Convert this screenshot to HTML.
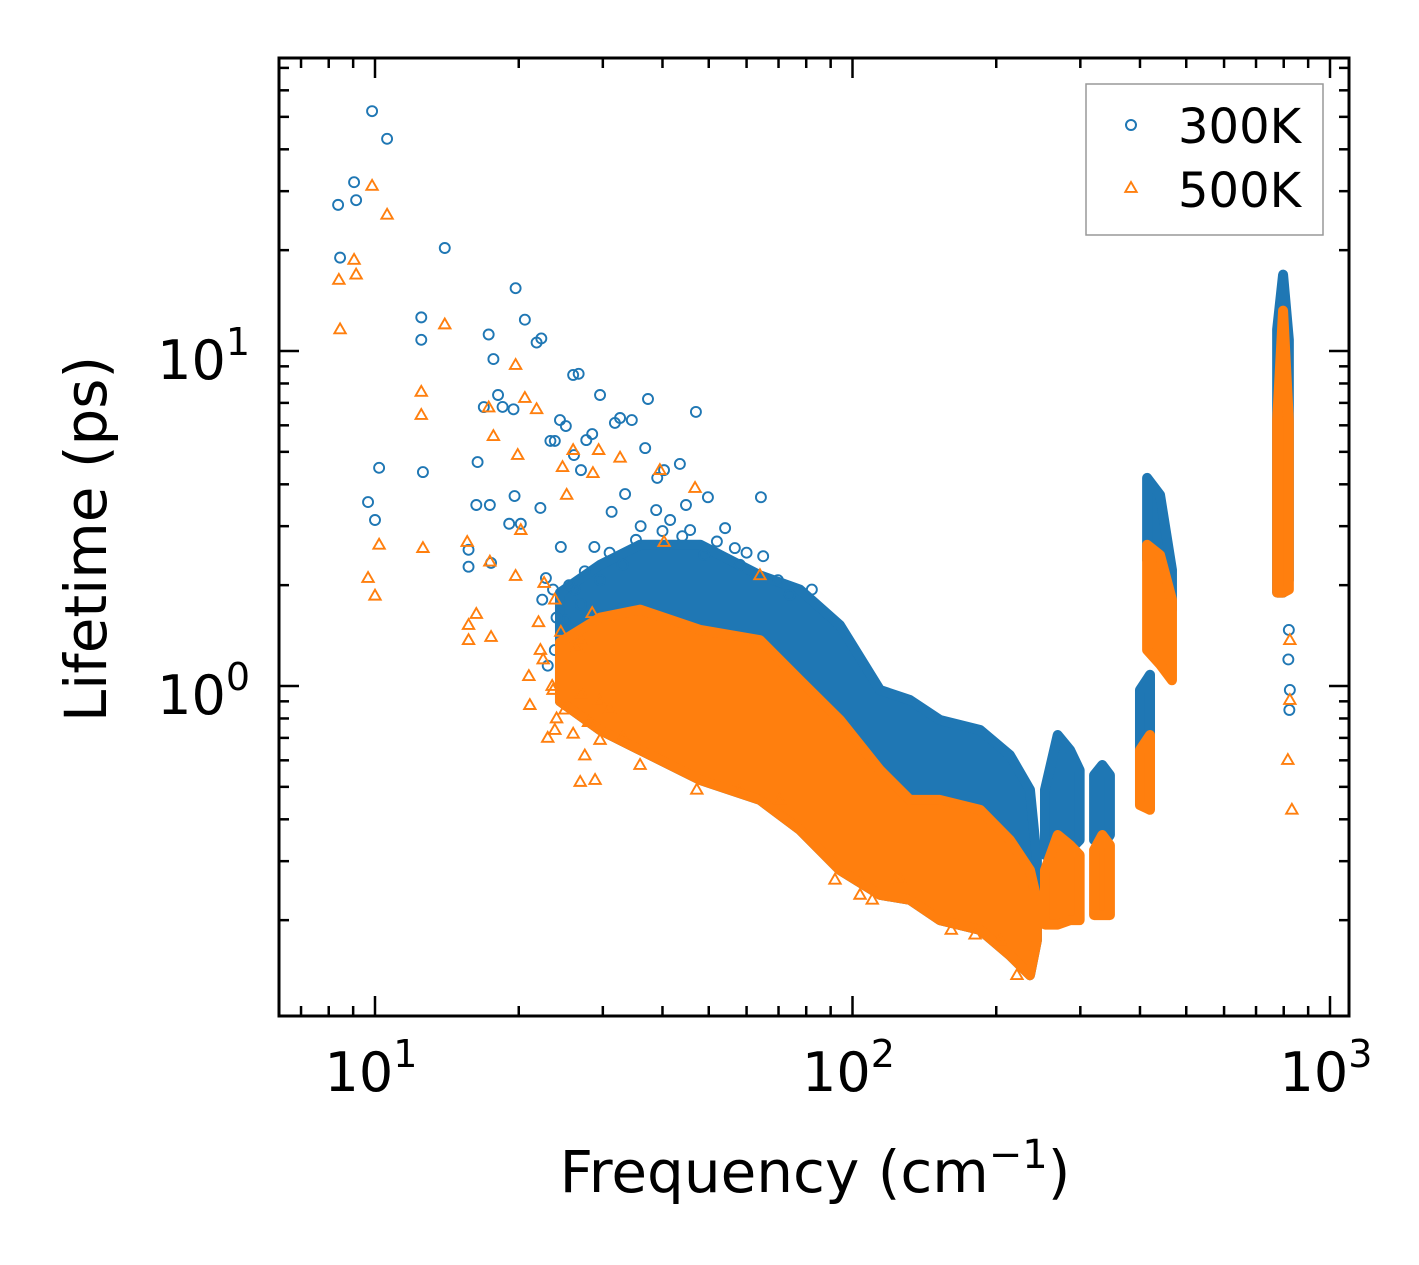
<!DOCTYPE html>
<html><head><meta charset="utf-8"><style>
html,body{margin:0;padding:0;background:#fff;}
svg{display:block;font-family:"DejaVu Sans","Liberation Sans",sans-serif;}
</style></head><body>
<svg id="chart" width="1419" height="1265" viewBox="0 0 1419 1265" xmlns="http://www.w3.org/2000/svg">
<rect width="1419" height="1265" fill="#fff"/>
<g id="plot"></g>
<g id="axes"></g>
</svg>
<script>
// ---- data ----
const xTickValues = [10, 100, 1000];
const xTickLabels = ["10", "10", "10"];
const xTickExps = ["1", "2", "3"];
const yTickValues = [1, 10];
const yTickLabels = ["10", "10"];
const yTickExps = ["0", "1"];
const seriesNames = ["300K", "500K"];

const blueFreq = [8.37,8.45,9.04,9.13,9.86,10.6,14.0,9.67,10.0,10.2,12.5,12.5,12.6,17.3,17.7,19.7,20.6,21.8,22.3,26.0,26.7,29.6,32.6,37.3,47.0,18.1,18.5,19.5,16.9,16.4,15.7,15.7,16.3,17.4,17.5,19.1,19.6,20.2,22.2,23.3,23.8,24.4,25.1,26.1,27.0,27.7,28.5,31.8,34.5,36.8,39.0,40.3,43.5,44.8,49.8,64.3,65.0,54.1,56.7,22.4,23.6,25.0,26.2,28.2,29.6,31.3,33.4,35.2,38.8,41.5,45.7,48.9,58.1,69.8,73.9,82.2,23.8,25.6,30.5,27.5,32.6,820,824,822,818,24,25.5,27,28,23,26.5,29,27.5,24.5,22.8,30.5,31,33,28.8,36,40,44,52,60];
const blueLife = [27.3,19.0,31.9,28.2,52.0,43.0,20.3,3.54,3.13,4.48,10.8,12.6,4.35,11.2,9.46,15.4,12.4,10.6,10.9,8.48,8.55,7.39,6.31,7.19,6.58,7.39,6.81,6.7,6.8,4.66,2.55,2.27,3.47,3.47,2.33,3.05,3.69,3.05,3.40,5.39,5.39,6.22,5.97,4.89,4.41,5.42,5.65,6.1,6.22,5.13,4.18,4.41,4.6,3.47,3.66,3.66,2.44,2.96,2.58,1.81,1.94,1.57,1.94,1.33,2.07,3.31,3.74,2.73,3.35,3.13,2.92,2.46,2.30,2.07,1.87,1.94,1.28,1.24,1.03,1.50,1.69,1.47,0.973,0.848,1.2,1.6,2.0,1.75,1.4,1.15,1.1,1.2,2.2,2.6,2.1,1.6,2.5,2.3,2.6,3.0,2.9,2.8,2.7,2.5];
const orangeFreq = [8.4,8.45,9.04,9.13,9.86,10.6,14.0,9.67,10.0,10.2,12.5,12.5,12.6,17.3,17.7,19.7,20.6,19.9,21.8,15.6,15.7,15.7,16.3,17.5,17.4,19.7,20.2,22.6,23.8,24.7,25.2,26.0,28.6,29.4,32.6,39.5,40.3,46.8,64.0,21.0,21.1,23.6,23.8,26.9,28.9,29.6,35.9,47.2,58.1,70.3,91.9,103.7,110,125.9,161,180.6,203.7,221,832,816,824,824,22.2,26.9,22.5,23.5,25,26,24,27,28,29.5,22,24.5,26.5,28.5,23,27.5,31,33];
const orangeLife = [16.3,11.6,18.7,16.9,31.1,25.5,12.0,2.10,1.86,2.64,7.55,6.44,2.58,6.78,5.57,9.08,7.24,4.89,6.7,2.69,1.52,1.37,1.64,1.40,2.35,2.13,2.92,2.03,1.81,4.50,3.72,5.06,4.32,5.06,4.8,4.41,2.69,3.9,2.14,1.07,0.877,0.973,0.739,0.517,0.524,0.69,0.581,0.49,0.49,0.457,0.264,0.238,0.23,0.264,0.187,0.181,0.174,0.137,0.427,0.601,0.908,1.37,1.28,1.37,1.2,1.0,0.85,0.72,0.8,0.95,0.78,0.9,1.55,1.45,1.3,1.65,0.7,0.62,0.85,0.7];

// dense regions: frequency, lower and upper lifetime envelopes
const blueBandFreq = [
  [24.4,29.6,35.9,48.0,64.0,77.6,94.1,114.2,131.9,152.4,185,213.6,235.3,243.3],
  [253,269,285.5,299],[320.6,333.5,346],[400,419.8],[414,440.6,466.7],[775,797.5,820]];
const blueBandLo = [
  [0.9,0.739,0.644,0.524,0.457,0.372,0.282,0.238,0.23,0.2,0.187,0.157,0.137,0.174],
  [0.313,0.303,0.324,0.347],[0.347,0.335,0.359],[0.601,0.69],[2.38,1.94,1.69],[1.9,1.9,2.07]];
const blueBandHi = [
  [1.9,2.3,2.64,2.64,2.14,1.94,1.52,0.973,0.908,0.792,0.739,0.622,0.49,0.303],
  [0.49,0.714,0.644,0.561],[0.542,0.581,0.542],[0.973,1.08],[4.18,3.72,2.22],[11.6,16.9,10.8]];
const orangeBandFreq = [
  [24.4,29.6,35.9,48.0,64.0,77.6,94.1,114.2,131.9,152.4,185,213.6,235.3,243.3],
  [253,269,285.5,299],[320.6,333.5,346],[400,419.8],[414,440.6,466.7],[775,797.5,820]];
const orangeBandLo = [
  [0.9,0.739,0.644,0.524,0.457,0.372,0.282,0.238,0.23,0.2,0.187,0.157,0.137,0.174],
  [0.194,0.194,0.2,0.2],[0.207,0.207,0.207],[0.441,0.427],[1.28,1.16,1.04],[1.9,1.9,1.94]];
const orangeBandHi = [
  [1.35,1.6,1.69,1.47,1.37,1.04,0.792,0.561,0.457,0.457,0.427,0.347,0.282,0.23],
  [0.282,0.359,0.335,0.313],[0.324,0.359,0.335],[0.644,0.714],[2.64,2.46,1.81],[6.22,13.2,6.22]];

// ---- layout ----
const PL=279, PR=1349, PT=58, PB=1016;
const X10=375, XDEC=477.5, Y1=686, YDEC=335;
const BLUE="#1f77b4", ORANGE="#ff7f0e";
function xs(f){return X10+(Math.log10(f)-1)*XDEC;}
function ys(v){return Y1-Math.log10(v)*YDEC;}
const NS="http://www.w3.org/2000/svg";
function mk(tag,attrs,parent){const e=document.createElementNS(NS,tag);for(const k in attrs)e.setAttribute(k,attrs[k]);parent.appendChild(e);return e;}
const plot=document.getElementById('plot');
const axes=document.getElementById('axes');
const cp=mk('clipPath',{id:'clip'},plot);
mk('rect',{x:PL,y:PT,width:PR-PL,height:PB-PT},cp);
const g=mk('g',{'clip-path':'url(#clip)'},plot);

function circle(f,v,parent){
  const c=mk('circle',{cx:xs(f),cy:ys(v),r:5,fill:'none',stroke:BLUE,'stroke-width':1.9},parent);
  
  
}
function tri(cx,cy,color,parent){
  const s=6;
  return mk('polygon',{points:`${cx},${cy-s} ${cx-s*0.95},${cy+s*0.65} ${cx+s*0.95},${cy+s*0.65}`,fill:'none',stroke:color,'stroke-width':1.9,'stroke-linejoin':'miter'},parent);
}
function band(fs,lo,hi,color,name,parent){
  let pts=[];
  for(let i=0;i<fs.length;i++)pts.push(xs(fs[i])+','+ys(hi[i]));
  for(let i=fs.length-1;i>=0;i--)pts.push(xs(fs[i])+','+ys(lo[i]));
  const p=mk('polygon',{points:pts.join(' '),fill:color,stroke:color,'stroke-width':10,'stroke-linejoin':'round'},parent);
  
  
}
const gb=mk('g',{},g);
for(let i=0;i<blueBandFreq.length;i++)band(blueBandFreq[i],blueBandLo[i],blueBandHi[i],BLUE,'dense-cluster-300k',gb);
for(let i=0;i<blueFreq.length;i++)circle(blueFreq[i],blueLife[i],gb);
const go=mk('g',{},g);
for(let i=0;i<orangeBandFreq.length;i++)band(orangeBandFreq[i],orangeBandLo[i],orangeBandHi[i],ORANGE,'dense-cluster-500k',go);
for(let i=0;i<orangeFreq.length;i++){
  const t=tri(xs(orangeFreq[i]),ys(orangeLife[i]),ORANGE,go);
  
  
}

// ---- axes frame ----
const fr=mk('rect',{x:PL,y:PT,width:PR-PL,height:PB-PT,fill:'none',stroke:'#000','stroke-width':3},axes);

const xmin=Math.pow(10,1+(PL-X10)/XDEC), xmax=Math.pow(10,1+(PR-X10)/XDEC);
for(let d=0;d<=3;d++){for(let m=1;m<=9;m++){
  const v=m*Math.pow(10,d); if(v<xmin||v>xmax)continue;
  const x=xs(v), L=(m===1)?20:10;
  mk('line',{x1:x,y1:PB,x2:x,y2:PB-L,stroke:'#000','stroke-width':2.5},axes);
  mk('line',{x1:x,y1:PT,x2:x,y2:PT+L,stroke:'#000','stroke-width':2.5},axes);
}}
const ymin=Math.pow(10,(Y1-PB)/YDEC), ymax=Math.pow(10,(Y1-PT)/YDEC);
for(let d=-1;d<=1;d++){for(let m=1;m<=9;m++){
  const v=m*Math.pow(10,d); if(v<ymin||v>ymax)continue;
  const y=ys(v), L=(m===1)?20:10;
  mk('line',{x1:PL,y1:y,x2:PL+L,y2:y,stroke:'#000','stroke-width':2.5},axes);
  mk('line',{x1:PR,y1:y,x2:PR-L,y2:y,stroke:'#000','stroke-width':2.5},axes);
}}
for(let i=0;i<xTickValues.length;i++){
  const t=mk('text',{x:xs(xTickValues[i])-4,y:1091,'font-size':54,'text-anchor':'middle',fill:'#000'},axes);
  t.textContent=xTickLabels[i];
  const s=mk('tspan',{'font-size':38,dy:-24},t);s.textContent=xTickExps[i];
  
}
for(let i=0;i<yTickValues.length;i++){
  const t=mk('text',{x:250,y:ys(yTickValues[i])+28,'font-size':54,'text-anchor':'end',fill:'#000'},axes);
  t.textContent=yTickLabels[i];
  const s=mk('tspan',{'font-size':38,dy:-24},t);s.textContent=yTickExps[i];
  
}
const xt=mk('text',{x:815,y:1192,'font-size':58,'text-anchor':'middle',fill:'#000'},axes);
xt.textContent='Frequency (cm';
const xs1=mk('tspan',{'font-size':40,dy:-24},xt);xs1.textContent='−1';
const xs2=mk('tspan',{dy:24},xt);xs2.textContent=')';

const yt=mk('text',{x:0,y:0,'font-size':58,'text-anchor':'middle',fill:'#000',transform:'translate(106,539) rotate(-90)'},axes);
yt.textContent='Lifetime (ps)';


// legend
const lg=mk('g',{},axes);
mk('rect',{x:1086,y:84,width:237,height:151,fill:'#fff',stroke:'#999','stroke-width':1.5},lg);
const le1=mk('g',{},lg);
mk('circle',{cx:1131,cy:125,r:5,fill:'none',stroke:BLUE,'stroke-width':2},le1);
const lt1=mk('text',{x:1178,y:143,'font-size':48,fill:'#000'},le1);lt1.textContent=seriesNames[0];
const le2=mk('g',{},lg);
tri(1131,188,ORANGE,le2);
const lt2=mk('text',{x:1178,y:207,'font-size':48,fill:'#000'},le2);lt2.textContent=seriesNames[1];
</script>
</body></html>
